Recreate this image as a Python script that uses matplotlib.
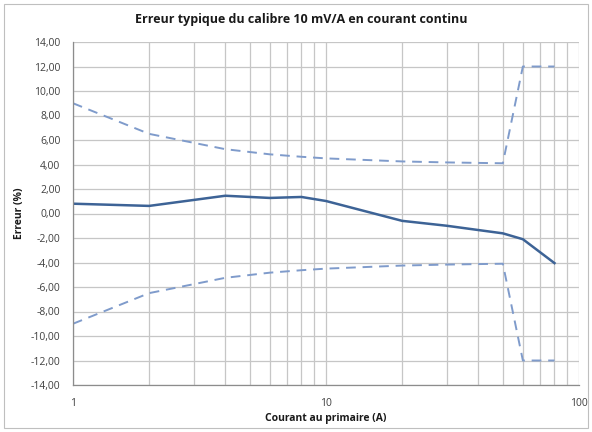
import matplotlib
matplotlib.use("Agg")
import matplotlib.pyplot as plt
from matplotlib.ticker import FixedLocator, FixedFormatter, NullFormatter
from matplotlib.patches import Rectangle

# Data
courant = [1, 2, 4, 6, 8, 10, 20, 30, 40, 50, 60, 80]
erreur = [0.80, 0.62, 1.45, 1.27, 1.35, 1.02, -0.60, -1.00, -1.35, -1.62, -2.10, -4.05]
limite_haute = [9.00, 6.50, 5.25, 4.83, 4.63, 4.50, 4.25, 4.17, 4.13, 4.10, 12.00, 12.00]
limite_basse = [-9.00, -6.50, -5.25, -4.83, -4.63, -4.50, -4.25, -4.17, -4.13, -4.10, -12.00, -12.00]
y_ticks = [-14, -12, -10, -8, -6, -4, -2, 0, 2, 4, 6, 8, 10, 12, 14]
x_ticks = [1, 10, 100]

plt.rcParams['font.family'] = ['Open Sans', 'DejaVu Sans']

fig = plt.figure(figsize=(5.92, 4.32), dpi=100)
ax = fig.add_axes([73/592, 1 - 385/432, (579-73)/592, (385-42)/432])

fig.patches.append(Rectangle((4/592, 4/432), 584/592, 424/432, transform=fig.transFigure,
                             fill=False, edgecolor='#bfbfbf', linewidth=0.8))

ax.set_xscale('log')
ax.set_xlim(1, 100)
ax.set_ylim(-14, 14)

ax.plot(courant, limite_haute, color='#7f9bcb', linewidth=1.4, dashes=(5, 3.5))
ax.plot(courant, limite_basse, color='#7f9bcb', linewidth=1.4, dashes=(5, 3.5))
ax.plot(courant, erreur, color='#3d6396', linewidth=1.8)

ax.yaxis.set_major_locator(FixedLocator(y_ticks))
ax.set_yticklabels([f"{v:.2f}".replace('.', ',') for v in y_ticks])
ax.xaxis.set_major_locator(FixedLocator(x_ticks))
ax.xaxis.set_major_formatter(FixedFormatter([str(v) for v in x_ticks]))
ax.xaxis.set_minor_formatter(NullFormatter())

ax.grid(True, which='major', color='#c6c6c6', linewidth=0.9)
ax.grid(True, which='minor', axis='x', color='#c6c6c6', linewidth=0.9)
ax.set_axisbelow(True)

for s in ['top', 'right']:
    ax.spines[s].set_visible(False)
for s in ['left', 'bottom']:
    ax.spines[s].set_color('#8c8c8c')
    ax.spines[s].set_linewidth(0.9)

ax.tick_params(axis='both', which='both', length=0, labelsize=7.5, colors='#404040')
ax.tick_params(axis='x', pad=9)
ax.tick_params(axis='y', pad=9)

fig.text(301/592, 1 - 20/432, "Erreur typique du calibre 10 mV/A en courant continu", fontsize=9,
         fontweight='bold', color='#1a1a1a', ha='center', va='center')
ax.set_xlabel("Courant au primaire (A)", fontsize=7.5, fontweight='bold', color='#1a1a1a', labelpad=3)
ax.set_ylabel("Erreur (%)", fontsize=7.5, fontweight='bold', color='#1a1a1a', labelpad=4)

fig.savefig("out.png", dpi=100)
